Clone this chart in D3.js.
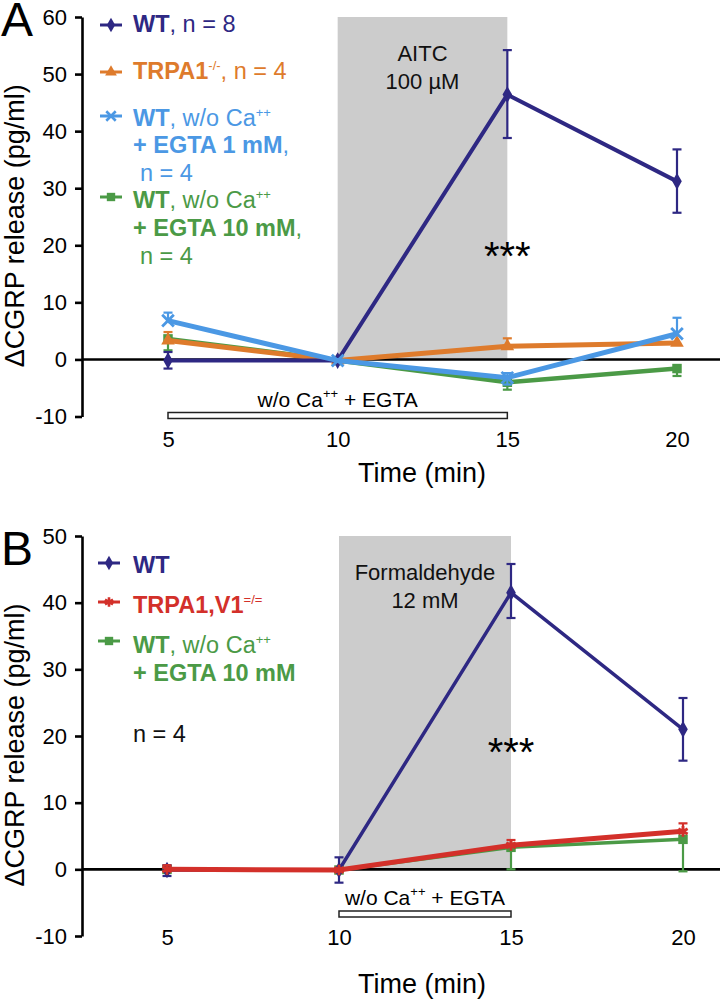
<!DOCTYPE html>
<html>
<head>
<meta charset="utf-8">
<script src="https://cdn.jsdelivr.net/npm/d3@7"></script>
<style>
  body { margin: 0; background: #fff; }
  svg { font-family: "Liberation Sans", Arial, sans-serif; display: block; }
</style>
</head>
<body>
<script>
// sampling times (min)
const times = [5, 10, 15, 20];

// panel A values (pg/ml) with upper / lower ends of the error bars (null = not drawn)
const wtA = [-0.2, -0.2, 46.4, 31.2];
const wtAHi = [1.3, null, 54.2, 36.8];
const wtALo = [-1.6, null, 38.8, 25.7];
const trpa1A = [3.3, -0.2, 2.3, 2.9];
const trpa1AHi = [4.8, null, 3.7, null];
const trpa1ALo = [null, null, null, null];
const wtCa1A = [6.8, -0.2, -3.2, 4.5];
const wtCa1AHi = [8.2, null, -2.4, 7.3];
const wtCa1ALo = [null, null, -4.4, null];
const wtCa10A = [3.6, -0.2, -4.0, -1.6];
const wtCa10AHi = [null, null, null, null];
const wtCa10ALo = [1.6, null, -5.3, -2.9];

// panel B values
const wtB = [-0.1, -0.1, 41.5, 21.0];
const wtBHi = [0.6, 1.8, 45.8, 25.7];
const wtBLo = [-1.0, -2.0, 37.7, 16.3];
const trpa1v1B = [0.0, -0.1, 3.6, 5.7];
const trpa1v1BHi = [0.6, null, 4.4, 6.9];
const trpa1v1BLo = [null, null, null, null];
const wtCa10B = [0.0, -0.1, 3.3, 4.5];
const wtCa10BHi = [null, null, null, null];
const wtCa10BLo = [null, null, 0.0, -0.3];

const yTicksA = [-10, 0, 10, 20, 30, 40, 50, 60];
const yTicksB = [-10, 0, 10, 20, 30, 40, 50];

const navy = "#2e2883", orange = "#de7b2c", sky = "#4b98e4", green = "#4b9a46", red = "#d3302a";

const svg = d3.select("body").append("svg")
    .attr("width", 720)
    .attr("height", 1000);

function superscript(sel, txt) {
    sel.append("tspan")
        .attr("font-size", 13)
        .attr("baseline-shift", 9)
        .attr("font-weight", "normal")
        .text(txt);
}

function drawPanel(p) {
    const g = svg.append("g");
    const x = d3.scaleLinear().domain([5, 20]).range(p.xRange);
    const y = d3.scaleLinear().domain(p.yDomain).range(p.yRange);

    // stimulus shading
    g.append("rect")
        .attr("x", x(10))
        .attr("y", y(p.yDomain[1]))
        .attr("width", x(15) - x(10))
        .attr("height", y(0) - y(p.yDomain[1]))
        .attr("fill", "#cccccc");

    p.stimulus.forEach((s, i) => {
        g.append("text")
            .attr("x", (x(10) + x(15)) / 2)
            .attr("y", p.stimY + i * 28)
            .attr("text-anchor", "middle")
            .attr("font-size", 22)
            .attr("fill", "#111")
            .text(s);
    });

    // zero line
    g.append("line")
        .attr("x1", 82).attr("x2", 720)
        .attr("y1", y(0)).attr("y2", y(0))
        .attr("stroke", "#000").attr("stroke-width", 2.6);

    // y axis
    const ya = g.append("g")
        .attr("transform", "translate(82,0)")
        .call(d3.axisLeft(y).tickValues(p.yTicks).tickFormat(d => String(d))
            .tickSize(7).tickSizeOuter(0).tickPadding(8));
    ya.selectAll("path, line").attr("stroke", "#000").attr("stroke-width", 2.6);
    ya.selectAll("text").attr("font-size", 22).attr("fill", "#000").attr("font-family", null);

    // x axis (labels only)
    const xa = g.append("g")
        .attr("transform", `translate(0,${p.xLabelY})`)
        .call(d3.axisBottom(x).tickValues(times).tickSize(0).tickPadding(0));
    xa.select(".domain").remove();
    xa.selectAll("text").attr("font-size", 22).attr("fill", "#000").attr("font-family", null);

    // axis titles
    g.append("text")
        .attr("x", 422)
        .attr("y", p.xTitleY)
        .attr("text-anchor", "middle")
        .attr("font-size", 27)
        .text("Time (min)");

    g.append("text")
        .attr("transform", `translate(24,${(p.yRange[0] + p.yRange[1]) / 2 + 9}) rotate(-90)`)
        .attr("text-anchor", "middle")
        .attr("font-size", 27)
        .text("\u0394CGRP release (pg/ml)");

    // panel letter
    g.append("text")
        .attr("x", 1)
        .attr("y", p.letterY)
        .attr("font-size", 48)
        .text(p.letter);

    // w/o Ca++ + EGTA bar
    g.append("rect")
        .attr("x", x(p.barFrom))
        .attr("y", p.barY)
        .attr("width", x(15) - x(p.barFrom))
        .attr("height", 6)
        .attr("fill", "#fff")
        .attr("stroke", "#222")
        .attr("stroke-width", 1.5);
    const bt = g.append("text")
        .attr("x", (x(p.barFrom) + x(15)) / 2)
        .attr("y", p.barY - 6)
        .attr("text-anchor", "middle")
        .attr("font-size", 21);
    bt.append("tspan").text("w/o Ca");
    superscript(bt, "++");
    bt.append("tspan").text(" + EGTA");

    // significance
    g.append("text")
        .attr("x", x(15))
        .attr("y", p.starY)
        .attr("text-anchor", "middle")
        .attr("font-size", 40)
        .text("***");

    // series
    const line = d3.line().x((d, i) => x(times[i])).y(d => y(d));
    p.series.forEach(s => {
        const sg = g.append("g");
        times.forEach((t, i) => {
            [s.hi[i], s.lo[i]].forEach(e => {
                if (e === null) return;
                sg.append("line")
                    .attr("x1", x(t)).attr("x2", x(t))
                    .attr("y1", y(s.values[i])).attr("y2", y(e))
                    .attr("stroke", s.color).attr("stroke-width", 2.2);
                sg.append("line")
                    .attr("x1", x(t) - 4.5).attr("x2", x(t) + 4.5)
                    .attr("y1", y(e)).attr("y2", y(e))
                    .attr("stroke", s.color).attr("stroke-width", 2.2);
            });
        });
        sg.append("path")
            .datum(s.values)
            .attr("d", line)
            .attr("fill", "none")
            .attr("stroke", s.color)
            .attr("stroke-width", s.width);
        sg.selectAll(".pt")
            .data(s.values)
            .enter()
            .append("path")
            .attr("transform", (d, i) => `translate(${x(times[i])},${y(d)})`)
            .attr("d", d3.symbol().type(s.symbol).size(s.size))
            .attr("fill", s.stroke ? "none" : s.color)
            .attr("stroke", s.color)
            .attr("stroke-width", s.stroke ? 2.8 : 0);
    });

    // legend
    p.legend.forEach(row => {
        if (row.symbol) {
            g.append("line")
                .attr("x1", row.mx - 11).attr("x2", row.mx + 11)
                .attr("y1", row.my).attr("y2", row.my)
                .attr("stroke", row.color).attr("stroke-width", 3);
            g.append("path")
                .attr("transform", `translate(${row.mx},${row.my})`)
                .attr("d", d3.symbol().type(row.symbol).size(row.size))
                .attr("fill", row.stroke ? "none" : row.color)
                .attr("stroke", row.color)
                .attr("stroke-width", row.stroke ? 2.6 : 0);
        }
        const t = g.append("text")
            .attr("x", row.x)
            .attr("y", row.y)
            .attr("font-size", 23.5)
            .attr("fill", row.color);
        row.parts.forEach(pt => {
            if (pt.sup) superscript(t, pt.sup);
            else t.append("tspan").attr("font-weight", pt.bold ? "bold" : "normal").text(pt.t);
        });
    });
}

drawPanel({
    letter: "A", letterY: 36,
    xRange: [168, 677],
    yDomain: [-10, 60], yRange: [416.5, 17], yTicks: yTicksA,
    xLabelY: 431, xTitleY: 482,
    stimulus: ["AITC", "100 \u00b5M"], stimY: 61,
    barFrom: 5, barY: 412.5,
    starY: 270,
    series: [
        { values: wtCa10A, hi: wtCa10AHi, lo: wtCa10ALo, color: green, width: 4.5, symbol: d3.symbolSquare, size: 90 },
        { values: trpa1A, hi: trpa1AHi, lo: trpa1ALo, color: orange, width: 5, symbol: d3.symbolTriangle, size: 80 },
        { values: wtA, hi: wtAHi, lo: wtALo, color: navy, width: 4, symbol: d3.symbolDiamond, size: 80 },
        { values: wtCa1A, hi: wtCa1AHi, lo: wtCa1ALo, color: sky, width: 5, symbol: d3.symbolX, size: 90, stroke: true }
    ],
    legend: [
        { mx: 111, my: 25, symbol: d3.symbolDiamond, size: 60, color: navy, x: 133, y: 32,
          parts: [{ t: "WT", bold: true }, { t: ", n = 8" }] },
        { mx: 111, my: 72, symbol: d3.symbolTriangle, size: 60, color: orange, x: 133, y: 79,
          parts: [{ t: "TRPA1", bold: true }, { sup: "-/-" }, { t: ", n = 4" }] },
        { mx: 111, my: 116, symbol: d3.symbolX, size: 60, stroke: true, color: sky, x: 133, y: 126,
          parts: [{ t: "WT", bold: true }, { t: ", w/o Ca" }, { sup: "++" }] },
        { color: sky, x: 133, y: 153, parts: [{ t: "+ EGTA 1 mM", bold: true }, { t: "," }] },
        { color: sky, x: 140, y: 181, parts: [{ t: "n = 4" }] },
        { mx: 111, my: 197, symbol: d3.symbolSquare, size: 70, color: green, x: 133, y: 208,
          parts: [{ t: "WT", bold: true }, { t: ", w/o Ca" }, { sup: "++" }] },
        { color: green, x: 133, y: 236, parts: [{ t: "+ EGTA 10 mM", bold: true }, { t: "," }] },
        { color: green, x: 140, y: 264, parts: [{ t: "n = 4" }] }
    ]
});

drawPanel({
    letter: "B", letterY: 565,
    xRange: [167, 683],
    yDomain: [-10, 50], yRange: [936, 536], yTicks: yTicksB,
    xLabelY: 929, xTitleY: 993,
    stimulus: ["Formaldehyde", "12 mM"], stimY: 580,
    barFrom: 10, barY: 911,
    starY: 766,
    series: [
        { values: wtCa10B, hi: wtCa10BHi, lo: wtCa10BLo, color: green, width: 3.5, symbol: d3.symbolSquare, size: 90 },
        { values: wtB, hi: wtBHi, lo: wtBLo, color: navy, width: 3.5, symbol: d3.symbolDiamond, size: 80 },
        { values: trpa1v1B, hi: trpa1v1BHi, lo: trpa1v1BLo, color: red, width: 5, symbol: d3.symbolAsterisk, size: 80, stroke: true }
    ],
    legend: [
        { mx: 109, my: 563, symbol: d3.symbolDiamond, size: 60, color: navy, x: 133, y: 573,
          parts: [{ t: "WT", bold: true }] },
        { mx: 109, my: 602, symbol: d3.symbolAsterisk, size: 60, stroke: true, color: red, x: 133, y: 613,
          parts: [{ t: "TRPA1,V1", bold: true }, { sup: "=/=" }] },
        { mx: 109, my: 641, symbol: d3.symbolSquare, size: 70, color: green, x: 133, y: 653,
          parts: [{ t: "WT", bold: true }, { t: ", w/o Ca" }, { sup: "++" }] },
        { color: green, x: 133, y: 681, parts: [{ t: "+ EGTA 10 mM", bold: true }] },
        { color: "#111", x: 133, y: 742, parts: [{ t: "n = 4" }] }
    ]
});
</script>
</body>
</html>
